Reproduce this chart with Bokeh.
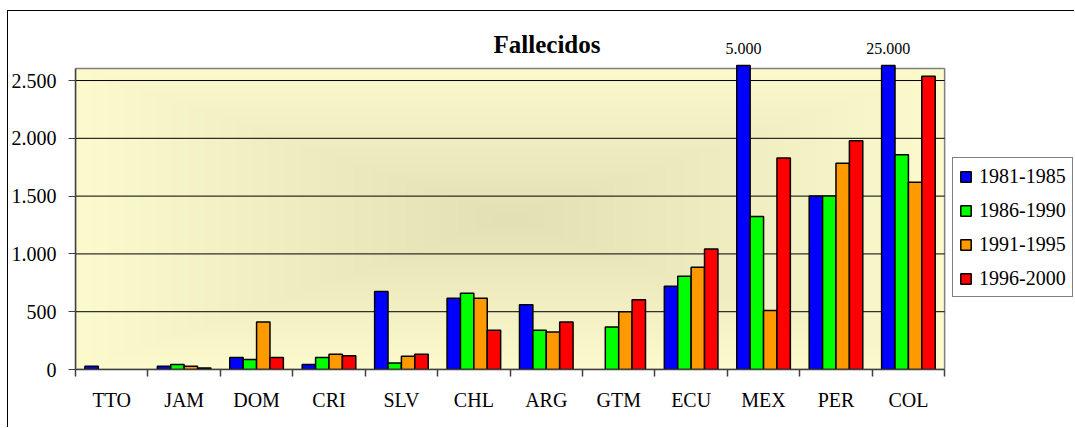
import numpy as np
from bokeh.plotting import figure
from bokeh.models import Range1d, FixedTicker, Legend, LegendItem, Label, ColumnDataSource
from bokeh.embed import file_html
from bokeh.resources import INLINE

# ---------------- data ----------------
countries = ["TTO", "JAM", "DOM", "CRI", "SLV", "CHL", "ARG", "GTM", "ECU", "MEX", "PER", "COL"]
periods = ["1981-1985", "1986-1990", "1991-1995", "1996-2000"]
p1981_1985 = [28, 28, 103, 43, 675, 617, 560, np.nan, 721, 5000, 1502, 25000]
p1986_1990 = [np.nan, 43, 86, 103, 57, 660, 339, 367, 807, 1324, 1502, 1859]
p1991_1995 = [np.nan, 28, 410, 132, 115, 617, 324, 500, 885, 511, 1784, 1620]
p1996_2000 = [np.nan, 14, 103, 118, 132, 339, 410, 603, 1043, 1830, 1978, 2537]
series = [p1981_1985, p1986_1990, p1991_1995, p1996_2000]
colors = ["#0000FF", "#00FF00", "#FF9900", "#FF0000"]
y_ticks = [0, 500, 1000, 1500, 2000, 2500]
y_tick_labels = ["0", "500", "1.000", "1.500", "2.000", "2.500"]
title_text = "Fallecidos"

# ---------------- layout constants ----------------
n = len(countries)
Y_AREA = 2604      # top of the shaded plot area
Y_CLIP = 2630      # bars taller than the area stop here
Y_END = 3054       # frame extends up to hold title / value labels
X_END = 13.807     # frame extends right to hold the legend

p = figure(width=1067, height=417, output_backend="svg", toolbar_location=None,
           x_range=Range1d(0, X_END), y_range=Range1d(0, Y_END),
           min_border_left=66, min_border_right=0, min_border_top=5,
           min_border_bottom=59)
p.styles = {"margin-left": "7px", "margin-top": "10px",
            "border-left": "1px solid black", "border-top": "1px solid black"}
p.background_fill_color = "white"
p.border_fill_color = "white"
p.outline_line_color = None
p.xgrid.grid_line_color = None
p.ygrid.grid_line_color = None

# gradient background (rectangular "from centre")
nx, ny = 870, 301
u = np.abs(np.linspace(-1, 1, nx))[None, :]
v = np.abs(np.linspace(-1, 1, ny))[:, None]
t = np.maximum(u, v)
dark = np.array([227, 224, 180])
light = np.array([252, 251, 205])
rgb = (dark[None, None, :] + (light - dark)[None, None, :] * t[:, :, None]).astype(np.uint32)
img = ((255 << 24) | (rgb[:, :, 2] << 16) | (rgb[:, :, 1] << 8) | rgb[:, :, 0]).astype(np.uint32)
p.image_rgba(image=[img], x=0, y=0, dw=n, dh=Y_AREA, level="image")

# plot-area border and horizontal grid lines
p.quad(left=0, right=n, bottom=0, top=Y_AREA, fill_color=None,
       line_color="#808080", line_width=1.5)
p.segment(x0=[0] * len(y_ticks), x1=[n] * len(y_ticks), y0=y_ticks, y1=y_ticks,
          line_color="black", line_width=1)

# bars
bw = 0.185
offsets = [-1.5 * bw, -0.5 * bw, 0.5 * bw, 1.5 * bw]
xs_base = np.arange(n) + 0.5
items = []
for vals, col, off, lab in zip(series, colors, offsets, periods):
    arr = np.array(vals, dtype=float)
    src = ColumnDataSource(dict(x=xs_base + off, top=np.minimum(arr, Y_CLIP)))
    r = p.vbar(x="x", top="top", bottom=0, width=bw, source=src,
               fill_color=col, line_color="black", line_width=1.5)
    items.append(LegendItem(label=lab, renderers=[r]))

# value labels for bars exceeding the axis
for i, v_ in enumerate(p1981_1985):
    if not np.isnan(v_) and v_ > Y_AREA:
        txt = "{:,}".format(int(v_)).replace(",", ".")
        p.add_layout(Label(x=xs_base[i] + offsets[0], y=2777, text=txt,
                           text_font="Liberation Serif", text_font_size="16px",
                           text_align="center", text_baseline="middle",
                           text_color="black"))

# title
p.add_layout(Label(x=6.51, y=2811, text=title_text,
                   text_font="Liberation Serif", text_font_size="25px",
                   text_font_style="bold", text_align="center",
                   text_baseline="middle", text_color="black"))

# y axis
p.yaxis.bounds = (0, Y_AREA)
p.yaxis.ticker = FixedTicker(ticks=y_ticks)
p.yaxis.major_label_overrides = {t_: l_ for t_, l_ in zip(y_ticks, y_tick_labels)}
p.yaxis.major_label_text_font = "Liberation Serif"
p.yaxis.major_label_text_font_size = "20px"
p.yaxis.major_label_text_color = "black"
p.yaxis.axis_line_color = "#404040"
p.yaxis.axis_line_width = 1.5
p.yaxis.major_tick_out = 7
p.yaxis.major_tick_in = 0
p.yaxis.major_tick_line_color = "#404040"
p.yaxis.minor_tick_line_color = None
p.yaxis.major_label_standoff = 12

# x axis: labels at centres, ticks at boundaries
p.xaxis.bounds = (0, n)
p.xaxis.ticker = FixedTicker(ticks=list(xs_base), minor_ticks=list(range(n + 1)))
p.xaxis.major_label_overrides = {float(x_): c for x_, c in zip(xs_base, countries)}
p.xaxis.major_label_text_font = "Liberation Serif"
p.xaxis.major_label_text_font_size = "20px"
p.xaxis.major_label_text_color = "black"
p.xaxis.axis_line_color = "#404040"
p.xaxis.axis_line_width = 1.5
p.xaxis.major_tick_line_color = None
p.xaxis.major_tick_out = 0
p.xaxis.major_tick_in = 0
p.xaxis.minor_tick_out = 7
p.xaxis.minor_tick_in = 0
p.xaxis.minor_tick_line_color = "#404040"
p.xaxis.minor_tick_line_width = 1.5
p.xaxis.major_label_standoff = 12

# legend
legend = Legend(items=items, location=(877, 72), orientation="vertical",
                label_text_font="Liberation Serif", label_text_font_size="20px",
                label_text_color="black", glyph_width=13, glyph_height=13,
                label_height=24, spacing=10, padding=6, label_standoff=7,
                border_line_color="black", border_line_width=1,
                background_fill_color="white", background_fill_alpha=1,
                margin=0)
p.add_layout(legend, "center")

open("out.html", "w").write(file_html(p, INLINE))
